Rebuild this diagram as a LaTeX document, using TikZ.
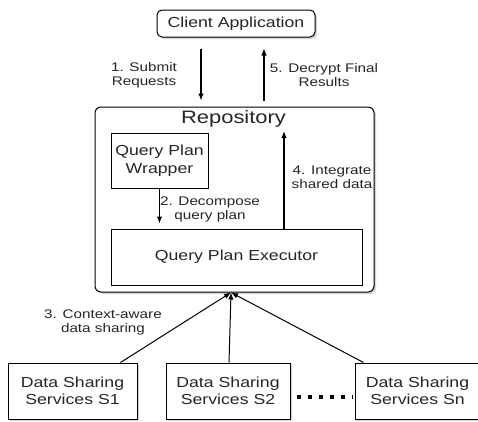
\documentclass[tikz,border=0pt]{standalone}
\usepackage{fontspec}
\setmainfont[FakeStretch=1.22]{Liberation Sans}
\usetikzlibrary{positioning}
\usetikzlibrary{arrows.meta,shadows}

\begin{document}
\begin{tikzpicture}[
    x=1pt, y=-1pt,
    box/.style={draw, line width=1pt, align=center, text=black!85,
        font=\fontsize{14.5}{17.5}\selectfont},
    shadowed/.style={fill=white, drop shadow={opacity=0.35, shadow xshift=2pt, shadow yshift=-2pt}},
    lbl/.style={align=center, text=black!85, font=\fontsize{12.5}{14}\selectfont},
    flow/.style={-{Latex[length=7pt,width=5.5pt]}, line width=1.2pt}
]
    \useasboundingbox (0,0) rectangle (478,421);

    % Client
    \node[box, shadowed, rounded corners=5pt, minimum width=158pt, minimum height=27pt] (client) at (236,23.5) {Client Application};

    % Repository with its parts
    \node[box, shadowed, rounded corners=6pt, minimum width=279pt, minimum height=185pt] (repo) at (234.5,199.5) {};
    \node[text=black!85, font=\fontsize{18}{20}\selectfont] (reptitle) at (233.5,119) {Repository};
    \node[box, minimum width=97pt, minimum height=55pt] (wrapper) at (159.5,160.5) {Query Plan\\Wrapper};
    \node[box, minimum width=251pt, minimum height=56pt] (executor) at (236.5,257) {Query Plan Executor};

    % Data sharing services
    \node[box, shadowed, minimum width=129pt, minimum height=56pt] (s1) at (72.5,391) {Data Sharing\\Services S1};
    \node[box, shadowed, minimum width=124pt, minimum height=56pt] (s2) at (228,391) {Data Sharing\\Services S2};
    \node[box, shadowed, minimum width=125pt, minimum height=56pt] (sn) at (417.5,391) {Data Sharing\\Services Sn};
    \draw[line width=4pt, dash pattern=on 4pt off 7pt, shorten <=6pt, shorten >=2pt] ([yshift=-6pt]s2.east) -- ([yshift=-6pt]sn.west);

    % Client <-> repository
    \draw[flow, shorten <=11pt, shorten >=6pt] ([xshift=-35pt]client.south) -- ([xshift=-35pt]client.south |- repo.north);
    \draw[flow, shorten <=6pt, shorten >=11pt] ([xshift=28pt]client.south |- repo.north) -- ([xshift=28pt]client.south);
    \node[lbl] (l1) at (144,75) {1. Submit\\Requests};
    \node[lbl] (l5) at (324,75) {5. Decrypt Final\\Results};

    % Inside the repository
    \draw[flow, shorten >=5pt] (wrapper.south) -- (wrapper.south |- executor.north);
    \node[lbl] (l2) at (210,209) {2. Decompose\\query plan};
    \coordinate (up4) at (284,131);
    \draw[flow] (up4 |- executor.north) -- (up4);
    \node[lbl] (l4) at (332,177) {4. Integrate\\shared data};

    % Services -> repository
    \coordinate (meet) at ([xshift=-3.5pt]repo.south);
    \draw[flow, line width=1pt] ([xshift=-17pt]s1.north east) -- (meet);
    \draw[flow, line width=1pt] ([xshift=1pt]s2.north) -- (meet);
    \draw[flow, line width=1pt] ([xshift=9pt]sn.north west) -- (meet);
    \node[lbl] (l3) at (103,322) {3. Context-aware\\data sharing};
\end{tikzpicture}
\end{document}
